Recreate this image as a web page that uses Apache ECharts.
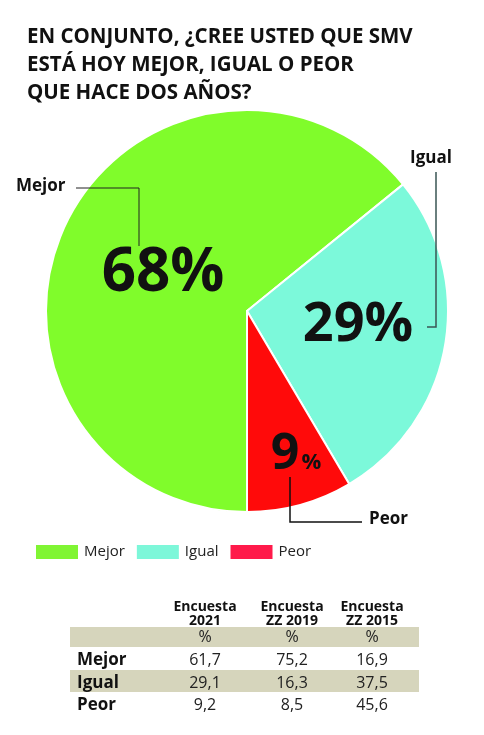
<!DOCTYPE html>
<html>
<head>
<meta charset="utf-8">
<script src="https://cdn.jsdelivr.net/npm/echarts@6/dist/echarts.min.js"></script>
<style>
html,body{margin:0;padding:0;background:#fff;}
#chart{width:484px;height:735px;}
</style>
</head>
<body>
<div id="chart"></div>
<script>
// ---- data ----
const categories = ['Mejor', 'Igual', 'Peor'];
const values = [68, 29, 9];
const tableHeaders = ['Encuesta\n2021', 'Encuesta\nZZ 2019', 'Encuesta\nZZ 2015'];
const tableRows = ['Mejor', 'Igual', 'Peor'];
const survey2021 = [61.7, 29.1, 9.2];
const surveyZZ2019 = [75.2, 16.3, 8.5];
const surveyZZ2015 = [16.9, 37.5, 45.6];
const titleText = 'EN CONJUNTO, ¿CREE USTED QUE SMV\nESTÁ HOY MEJOR, IGUAL O PEOR\nQUE HACE DOS AÑOS?';

// ---- styles ----
const sliceColors = ['#80fc2b', '#7cf9da', '#ff0a0a'];
const legendColors = ['#80f533', '#7df7d9', '#ff1a4a'];
const FONT = '"Open Sans", "Noto Sans", sans-serif';

const chart = echarts.init(document.getElementById('chart'), null, {renderer: 'canvas'});

const CX = 247, CY = 311, R = 201;

// label placements (layout, not data)
const innerLabelPos = {
  Mejor: {x: 163, y: 274},
  Igual: {x: 358, y: 326},
  Peor: {x: 296, y: 455}
};
const outerLabelPos = {
  Mejor: {x: 16, y: 186, line: [[76, 188], [139, 188], [139, 246]], color: '#222', w: 1},
  Igual: {x: 410, y: 158, line: [[436, 172], [436, 327], [427, 327]], color: '#3a5554', w: 1.5},
  Peor: {x: 369, y: 519, line: [[290, 477], [290, 522], [362, 522]], color: '#111', w: 1.5}
};

function fmt(v) { return v.toFixed(1).replace('.', ','); }

const pieData = categories.map((c, i) => ({
  name: c, value: values[i], itemStyle: {color: sliceColors[i]}
}));

const labelData = categories.map((c, i) => ({
  name: c, value: values[i],
  labelLine: {lineStyle: {color: outerLabelPos[c].color, width: outerLabelPos[c].w}}
}));

// table graphics
const colX = [205, 292, 372];
const rowY = [660, 683, 705];
const graphics = [];
graphics.push({type: 'rect', shape: {x: 70, y: 627, width: 349, height: 20}, style: {fill: '#d6d5bc'}, silent: true});
graphics.push({type: 'rect', shape: {x: 70, y: 670, width: 349, height: 22}, style: {fill: '#d6d5bc'}, silent: true});
const cols = [survey2021, surveyZZ2019, surveyZZ2015];
tableHeaders.forEach((h, j) => {
  graphics.push({type: 'text', x: colX[j], y: 614, style: {
    text: h, fill: '#111', font: 'bold 14px ' + FONT, lineHeight: 14,
    align: 'center', verticalAlign: 'middle'}, silent: true});
  graphics.push({type: 'text', x: colX[j], y: 637, style: {
    text: '%', fill: '#222', font: '16px ' + FONT,
    align: 'center', verticalAlign: 'middle'}, silent: true});
  cols[j].forEach((v, i) => {
    graphics.push({type: 'text', x: colX[j], y: rowY[i], style: {
      text: fmt(v), fill: '#222', font: '16px ' + FONT,
      align: 'center', verticalAlign: 'middle'}, silent: true});
  });
});
tableRows.forEach((r, i) => {
  graphics.push({type: 'text', x: 77, y: rowY[i], style: {
    text: r, fill: '#111', font: 'bold 17px ' + FONT,
    align: 'left', verticalAlign: 'middle'}, silent: true});
});

const option = {
  animation: false,
  backgroundColor: '#ffffff',
  title: {
    text: titleText,
    left: 22, top: 18,
    textStyle: {fontFamily: FONT, fontWeight: 'bold', fontSize: 20.5, lineHeight: 28, color: '#111'}
  },
  legend: {
    left: 34, top: 543, padding: 0,
    itemWidth: 44, itemHeight: 16, itemGap: 10,
    icon: 'rect',
    textStyle: {fontFamily: FONT, fontSize: 15, color: '#222'},
    data: categories.map((c, i) => ({name: c, itemStyle: {color: legendColors[i]}})),
    selectedMode: false
  },
  graphic: graphics,
  series: [
    {
      type: 'pie',
      z: 2,
      center: [CX, CY],
      radius: [0, R],
      startAngle: 270,
      clockwise: true,
      data: pieData,
      itemStyle: {borderColor: '#fff', borderWidth: 2},
      emphasis: {disabled: true},
      label: {
        show: true,
        position: 'inside',
        formatter: p => p.name === 'Peor' ? '{mid|' + p.value + '}{small|%}' : (p.name === 'Mejor' ? '{big|' + p.value + '%}' : '{mid2|' + p.value + '%}'),
        rich: {
          big: {fontFamily: FONT, fontWeight: 'bold', fontSize: 60, color: '#111'},
          mid2: {fontFamily: FONT, fontWeight: 'bold', fontSize: 54, color: '#111'},
          mid: {fontFamily: FONT, fontWeight: 'bold', fontSize: 50, color: '#111', verticalAlign: 'bottom'},
          small: {fontFamily: FONT, fontWeight: 'bold', fontSize: 22, color: '#111', verticalAlign: 'bottom', padding: [0, 0, 6, 2]}
        }
      },
      labelLine: {show: false},
      labelLayout: p => {
        const pos = innerLabelPos[categories[p.dataIndex]];
        return {x: pos.x, y: pos.y, align: 'center', verticalAlign: 'middle'};
      }
    },
    {
      type: 'pie',
      z: 5,
      center: [CX, CY],
      radius: [0, R],
      startAngle: 270,
      clockwise: true,
      silent: true,
      data: labelData,
      itemStyle: {color: 'rgba(0,0,0,0)', borderWidth: 0},
      emphasis: {disabled: true},
      label: {
        show: true,
        position: 'outside',
        overflow: 'none',
        formatter: '{b}',
        fontFamily: FONT, fontWeight: 'bold', fontSize: 17, color: '#111'
      },
      labelLine: {show: true, length: 10, length2: 10},
      labelLayout: p => {
        const pos = outerLabelPos[categories[p.dataIndex]];
        return {x: pos.x, y: pos.y, align: 'left', verticalAlign: 'middle', width: 80, labelLinePoints: pos.line};
      }
    }
  ]
};
chart.setOption(option);
</script>
</body>
</html>
